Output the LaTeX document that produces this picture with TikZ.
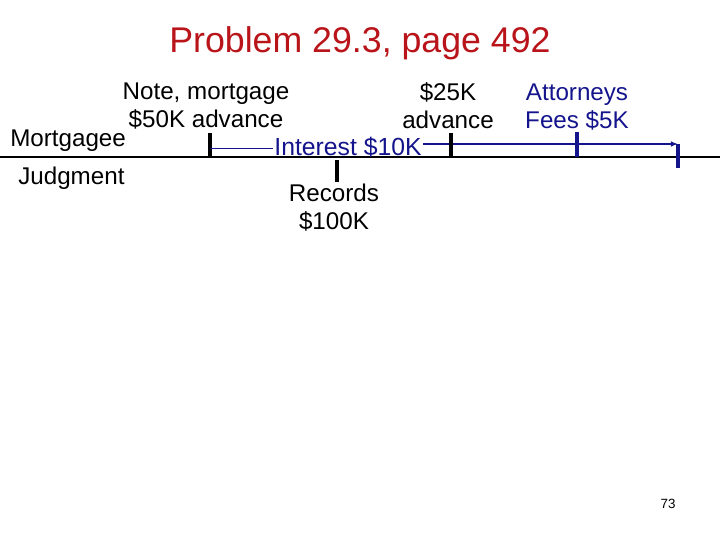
\documentclass[tikz,border=0pt]{standalone}
\usepackage{fontspec}
\setmainfont{Liberation Sans}
\usetikzlibrary{arrows.meta}
\definecolor{titlered}{RGB}{185,20,25}
\definecolor{navyblue}{RGB}{20,20,140}
\tikzset{>=latex}
\tikzset{
	lbl/.style={font=\fontsize{17.2}{20}\selectfont, inner sep=0pt, align=center},
	tick/.style={line width=2.3pt},
}
\begin{document}
\begin{tikzpicture}[x=0.025cm,y=-0.025cm]
		\useasboundingbox (0,0) rectangle (720,540);
		\coordinate (L) at (0,157);
		\coordinate (R) at (720,157);
		\coordinate (A) at (210,157);
		\coordinate (B) at (451,157);
		\coordinate (C) at (577,157);
		\coordinate (D) at (337,157);
		\coordinate (E) at (678,144);
		\node[font=\fontsize{25.4}{30}\selectfont, text=titlered] (title) at (360,43) {Problem 29.3, page 492};
		\draw[line width=0.9pt] (L)--(R);
		\node[lbl, anchor=west] (mtg) at (10,141) {Mortgagee};
		\node[lbl, anchor=west] (jdg) at (18,178) {Judgment};
		% note and mortgage
		\node[lbl] (note) at (206,106) {Note, mortgage\\\$50K advance};
		\draw[tick] (A)--++(0,-24);
		% interest
		\node[lbl, text=navyblue, font=\fontsize{17.6}{20}\selectfont] (int) at (348,147) {Interest \$10K};
		\draw[navyblue, line width=0.6pt] (A|-0,148)--([xshift=-1pt]int.west|-0,148);
		\draw[navyblue, line width=1.8pt, -{Latex[length=5pt,width=4pt]}] ([xshift=1pt]int.east|-E)--(E);
		\draw[navyblue, tick] (E)--++(0,24);
		% records
		\draw[tick] (D)++(0,3)--++(0,22);
		\node[lbl] (rec) at (334,208) {Records\\\$100K};
		% second advance
		\node[lbl] (adv) at (448,106) {\$25K\\advance};
		\draw[tick] (B)--++(0,-24);
		% fees
		\node[lbl, text=navyblue] (fees) at (577,107) {Attorneys\\Fees \$5K};
		\draw[navyblue, tick] (C)--++(0,-25);
		\node[font=\fontsize{9.5}{11}\selectfont] (pg) at (668,504) {73};
	\end{tikzpicture}
\end{document}
